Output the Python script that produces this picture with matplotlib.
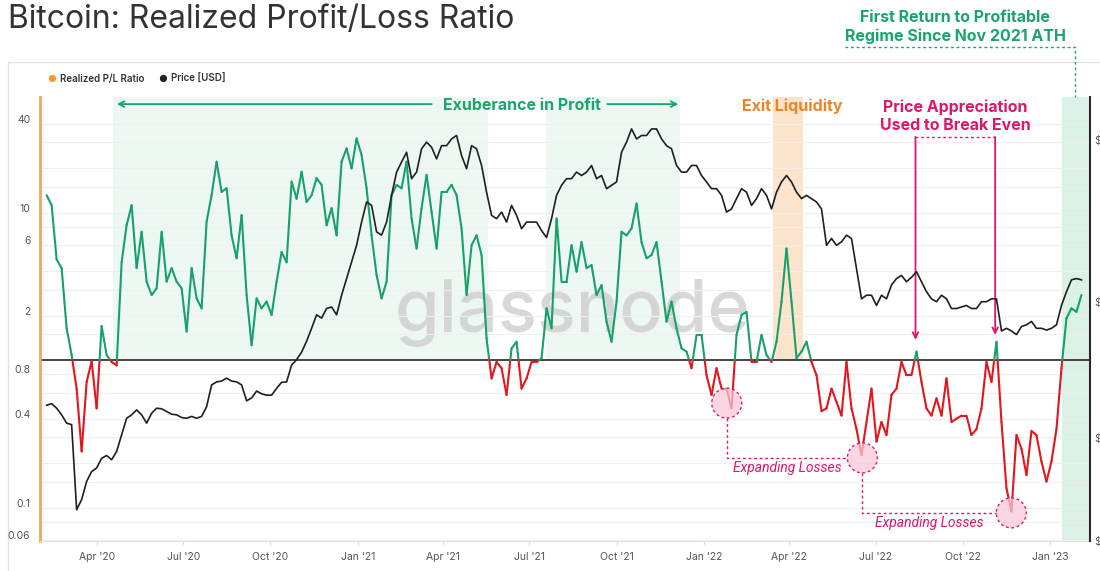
import numpy as np
import pandas as pd
import matplotlib
matplotlib.use("Agg")
import matplotlib.pyplot as plt
import matplotlib.dates as mdates
import matplotlib.transforms as mtransforms
from matplotlib.collections import LineCollection
from matplotlib.patches import Ellipse, Rectangle
from matplotlib.lines import Line2D

plt.rcParams['font.family'] = ['Inter', 'DejaVu Sans']

dates = pd.date_range("2020-02-08", "2023-02-03", periods=208)
pl_ratio = [
    13.1, 11.2, 4.8, 4.2, 1.64, 1.08, 0.64, 0.24, 0.71, 0.98,
    0.47, 1.7, 1.08, 0.97, 0.92, 4.6, 8.2, 11.2, 4.2, 7.4,
    3.4, 2.76, 3.06, 7.4, 3.4, 4.2, 3.4, 3.06, 1.56, 4.2,
    2.62, 2.24, 8.7, 13.1, 22.1, 13.8, 14.6, 7.0, 4.9, 9.6,
    2.76, 1.26, 2.62, 2.24, 2.49, 2.02, 3.4, 5.4, 4.6, 16.2,
    12.4, 18.9, 11.8,
    13.1, 17.1, 15.4, 8.2, 10.7, 7.0, 22.1, 27.2, 19.9, 31.8,
    24.5, 14.6, 7.0, 3.77, 2.62, 3.4, 13.1, 15.4, 14.6, 22.1,
    9.1, 5.7, 10.7, 18.0, 10.1, 5.7, 13.8, 13.8, 15.4, 13.1,
    7.8, 2.76, 6.0, 7.0, 5.15, 1.40, 0.75, 0.97, 0.88, 0.58,
    1.2, 1.33, 0.64, 0.75, 0.97, 0.97, 1.03, 2.24, 1.64, 9.1,
    3.4, 3.4,
    6.0, 3.97, 6.3, 4.2, 4.4, 2.76, 3.22, 1.82, 1.33, 2.49,
    7.4, 7.0, 7.8, 11.5, 6.3, 4.9, 5.15, 6.3, 3.4, 1.82,
    2.49, 1.64, 1.2, 1.14, 0.88, 1.48, 1.48, 0.79, 0.58, 0.88,
    0.64, 0.64, 0.47, 1.48, 2.02, 2.12, 0.97, 0.97, 1.48, 1.08,
    0.97, 1.33, 2.49, 5.7, 2.49, 1.03, 1.14, 1.33, 0.97, 0.79,
    0.45, 0.47,
    0.64, 0.52, 0.42, 0.97, 0.47, 0.34, 0.227, 0.38, 0.64, 0.28,
    0.38, 0.31, 0.58, 0.64, 0.97, 0.79, 0.79, 1.14, 0.71, 0.47,
    0.42, 0.55, 0.42, 0.75, 0.38, 0.40, 0.42, 0.42, 0.31, 0.34,
    0.47, 0.97, 0.71, 1.33, 0.38, 0.135, 0.094, 0.31, 0.25, 0.166,
    0.33, 0.31, 0.205, 0.15, 0.205, 0.34, 0.88, 1.92, 2.24, 2.12,
    2.76,
]
# BTC price, thousands of USD
price_k = [
    10.0, 10.1, 9.8, 9.37, 8.86, 8.77, 4.94, 5.29, 5.98, 6.39,
    6.55, 6.99, 7.12, 6.92, 7.32, 8.19, 9.16, 9.37, 9.69, 9.37,
    8.86, 9.47, 9.8, 9.76, 9.58, 9.41, 9.37, 9.2, 9.16, 9.27,
    9.16, 9.27, 9.9, 11.47, 11.7, 11.77, 12.0, 11.77, 11.7, 11.47,
    10.3, 10.5, 11.0, 10.8, 10.7, 10.7, 11.2, 11.67, 11.7, 13.1,
    13.6, 14.3, 15.4,
    16.8, 18.4, 18.0, 19.2, 19.4, 18.4, 21.0, 23.5, 26.3, 29.4,
    34.4, 39.4, 38.5, 32.2, 31.5, 34.4, 41.2, 48.2, 51.6, 55.1,
    46.1, 48.2, 56.4, 59.0, 57.0, 52.7, 57.6, 57.6, 60.3, 61.7,
    53.9, 49.3, 57.6, 56.4, 50.4, 42.1, 36.0, 35.2, 36.8, 34.4,
    38.5, 36.0, 32.9, 34.4, 34.4, 34.4, 32.5, 31.0, 35.2, 41.2,
    44.1, 46.1,
    46.1, 48.2, 47.1, 48.2, 50.4, 46.1, 47.1, 43.1, 44.1, 45.1,
    55.1, 59.0, 64.5, 60.3, 61.7, 61.7, 64.5, 64.5, 60.3, 57.6,
    56.4, 50.4, 48.2, 48.2, 50.4, 50.4, 47.1, 45.1, 43.1, 43.1,
    41.2, 36.8, 37.6, 40.3, 43.1, 42.1, 38.5, 40.3, 43.1, 41.2,
    37.6, 42.1, 45.1, 47.1, 45.1, 42.1, 40.3, 41.2, 40.3, 39.4,
    37.6, 29.4,
    30.8, 29.4, 30.1, 31.5, 30.8, 25.1, 20.5, 21.0, 21.0, 19.6,
    21.0, 20.5, 22.5, 23.5, 24.0, 23.0, 23.7, 24.6, 23.0, 21.5,
    20.5, 20.1, 21.0, 20.5, 19.2, 19.2, 19.4, 19.6, 19.2, 19.2,
    20.1, 20.1, 20.5, 20.5, 16.5, 16.8, 16.5, 16.1, 17.0, 17.2,
    17.6, 16.8, 16.8, 16.6, 16.8, 17.2, 19.6, 21.5, 23.3, 23.5,
    23.3,
]

tick_dates = pd.date_range("2020-04-01", "2023-01-01", freq="QS")
ratio_ticks = [0.06, 0.1, 0.4, 0.8, 2, 6, 10, 40]
ratio_grid = [0.08, 0.15, 0.2, 0.3, 0.6, 1.5, 3, 4, 8, 15, 20, 30]
price_ticks = [4000, 8000, 20000, 60000]

GREEN = "#17a16a"
RED = "#e3151d"
TXT_GREEN = "#1aa56d"
ORANGE = "#f0841f"
CRIMSON = "#e0166b"

fig = plt.figure(figsize=(11, 5.71), dpi=100)
fig.add_artist(Rectangle((8 / 1100, -0.05), 1.0, 1.05 - 62 / 571, transform=fig.transFigure,
                         facecolor="white", edgecolor="#e3e3e3", lw=1, zorder=-5))

ax = fig.add_axes([40 / 1100, 30 / 571, 1050 / 1100, 444 / 571])
ax.set_yscale("log")
ax.set_ylim(0.0593, 60.7)
ax.set_xlim(pd.Timestamp("2020-02-01"), pd.Timestamp("2023-02-12"))

ax.set_yticks(ratio_ticks)
ax.set_yticklabels([f"{t:g}" for t in ratio_ticks])
ax.set_yticks(ratio_grid, minor=True)
ax.yaxis.set_minor_formatter(plt.NullFormatter())
ax.grid(True, which="both", axis="y", color="#efefef", lw=0.8, zorder=0)
ax.tick_params(axis="y", which="both", length=0, labelsize=7.5, labelcolor="#555", pad=7)
lift = mtransforms.ScaledTranslation(0, 5 / 100, fig.dpi_scale_trans)
for lab in ax.get_yticklabels():
    lab.set_transform(lab.get_transform() + lift)
ax.set_xticks(tick_dates)
ax.set_xticklabels([d.strftime("%b '%y") for d in tick_dates])
ax.tick_params(axis="x", length=3, color="#dddddd", labelsize=7.5, labelcolor="#555", pad=5)

for s in ["top", "right"]:
    ax.spines[s].set_visible(False)
ax.spines["left"].set_color("#f2a65a")
ax.spines["left"].set_linewidth(2)
ax.spines["bottom"].set_color("#e2e2e2")

# shaded regimes
top = 60.7
for a, b in [("2020-04-18", "2021-05-18"), ("2021-07-18", "2021-12-07")]:
    ax.fill_between([pd.Timestamp(a), pd.Timestamp(b)], 1, top, color="#eef8f3", lw=0, zorder=0.5)
ax.fill_between([pd.Timestamp("2022-03-15"), pd.Timestamp("2022-04-15")], 1, top,
                color="#fce3cb", lw=0, zorder=0.5)
ax.axvspan(pd.Timestamp("2023-01-13"), pd.Timestamp("2023-02-12"), color="#dcf2e7", lw=0, zorder=0.5)

ax.text(0.507, 0.514, "glassnode", transform=ax.transAxes, ha="center", va="center",
        fontsize=52, color="#cbcbcb", alpha=0.75, fontweight="medium", zorder=1)

ax.axhline(1.0, color="#444444", lw=1.4, zorder=2)

# ratio line, green above 1 and red below
xn = mdates.date2num(dates)
yv = np.array(pl_ratio)
segs, cols = [], []
for k in range(len(xn) - 1):
    x0, x1, y0, y1 = xn[k], xn[k + 1], yv[k], yv[k + 1]
    a0, a1 = np.log10(y0), np.log10(y1)
    if a0 * a1 < 0:
        xm = x0 + a0 / (a0 - a1) * (x1 - x0)
        segs.append([(x0, y0), (xm, 1.0)])
        cols.append(GREEN if a0 > 0 else RED)
        segs.append([(xm, 1.0), (x1, y1)])
        cols.append(GREEN if a1 > 0 else RED)
    else:
        segs.append([(x0, y0), (x1, y1)])
        cols.append(GREEN if a0 + a1 > 0 else RED)
ax.add_collection(LineCollection(segs, colors=cols, lw=1.5, capstyle="round",
                                 joinstyle="round", zorder=3))

# price axis
ax2 = ax.twinx()
ax2.set_yscale("log")
ax2.set_ylim(4000, 80000)
ax2.plot(dates, np.array(price_k) * 1000, color="#1f1f1f", lw=1.2)
ax2.set_yticks(price_ticks)
ax2.set_yticklabels(["$"] * len(price_ticks))
ax2.yaxis.set_minor_locator(plt.NullLocator())
ax2.tick_params(axis="y", length=0, labelsize=7.5, labelcolor="#555", pad=3)
for s in ["top", "left", "bottom"]:
    ax2.spines[s].set_visible(False)
ax2.spines["right"].set_color("#2b2b2b")
ax2.spines["right"].set_linewidth(1.5)

# ---- annotations ----
xt = ax.get_xaxis_transform()


def dn(d):
    return float(mdates.date2num(pd.Timestamp(d)))


ax.text(dn("2021-06-23"), 0.98, "Exuberance in Profit", transform=xt, ha="center",
        va="center", color=TXT_GREEN, fontsize=11.5, fontweight="bold")
ax.annotate("", xy=(dn("2020-04-22"), 0.984), xytext=(dn("2021-03-20"), 0.984),
            xycoords=xt, textcoords=xt,
            arrowprops=dict(arrowstyle="->", color=TXT_GREEN, lw=1.3, shrinkA=0, shrinkB=0))
ax.annotate("", xy=(dn("2021-12-05"), 0.984), xytext=(dn("2021-09-21"), 0.984),
            xycoords=xt, textcoords=xt,
            arrowprops=dict(arrowstyle="->", color=TXT_GREEN, lw=1.3, shrinkA=0, shrinkB=0))

ax.text(dn("2022-04-04"), 0.98, "Exit Liquidity", transform=xt, ha="center",
        va="center", color=ORANGE, fontsize=11.5, fontweight="bold")

ax.text(dn("2022-09-23"), 0.957, "Price Appreciation\nUsed to Break Even", transform=xt,
        ha="center", va="center", color=CRIMSON, fontsize=11.5, fontweight="bold", linespacing=1.2)
d_a, d_b = dn("2022-08-12"), dn("2022-11-04")
ax.plot([d_a, d_b], [0.91, 0.91], transform=xt, color=CRIMSON, lw=1, ls=(0, (2, 2)), zorder=4)
for d, v in [(d_a, 1.37), (d_b, 1.48)]:
    ax.annotate("", xy=(d, v), xycoords="data", xytext=(d, 0.91), textcoords=xt,
                arrowprops=dict(arrowstyle="->", color=CRIMSON, lw=1.3, shrinkA=0, shrinkB=0),
                zorder=4)


def to_axes(d, v):
    p = ax.transData.transform(np.array([[dn(d), float(v)]]))
    return ax.transAxes.inverted().transform(p)[0]


rw, rh = 30 / 1050, 30 / 444
circles = [to_axes("2022-01-25", 0.51), to_axes("2022-06-17", 0.217), to_axes("2022-11-21", 0.092)]
for cx, cy in circles:
    ax.add_patch(Ellipse((cx, cy), rw, rh, transform=ax.transAxes, facecolor="#f7c9d8",
                         alpha=0.75, edgecolor="none", zorder=4))
    ax.add_patch(Ellipse((cx, cy), rw, rh, transform=ax.transAxes, facecolor="none",
                         edgecolor=CRIMSON, lw=1, ls=(0, (2, 2)), zorder=4))
for (c1x, c1y), (c2x, c2y) in zip(circles[:-1], circles[1:]):
    ax.plot([c1x, c1x, c2x - rw / 2], [c1y - rh / 2, c2y, c2y], transform=ax.transAxes,
            color=CRIMSON, lw=1, ls=(0, (2, 2)), zorder=4)
    ax.text((c1x + c2x - rw / 2) / 2, c2y - 10 / 444, "Expanding Losses", transform=ax.transAxes,
            ha="center", va="center", color=CRIMSON, fontsize=10, style="italic",
            family=["Roboto", "DejaVu Sans"], zorder=4)

# header texts
fig.text(8 / 1100, 1 - 20 / 571, "Bitcoin: Realized Profit/Loss Ratio", ha="left", va="center",
         fontsize=23, color="#333333")
fig.text(955 / 1100, 1 - 27 / 571, "First Return to Profitable\nRegime Since Nov 2021 ATH",
         ha="center", va="center", fontsize=11.5, fontweight="bold", color=TXT_GREEN, linespacing=1.3)
fig.add_artist(Line2D([845 / 1100, 1075 / 1100, 1075 / 1100], [1 - 47 / 571, 1 - 47 / 571, 1 - 97 / 571],
                      transform=fig.transFigure, color=TXT_GREEN, lw=1, ls=(0, (2, 2))))

# legend
fig.text(52 / 1100, 1 - 79 / 571, "\u25CF", color="#f39a2d", fontsize=7, ha="center", va="center")
fig.text(60 / 1100, 1 - 79 / 571, "Realized P/L Ratio", color="#333", fontsize=7,
         fontweight="semibold", ha="left", va="center")
fig.text(163 / 1100, 1 - 79 / 571, "\u25CF", color="#222", fontsize=7, ha="center", va="center")
fig.text(171 / 1100, 1 - 79 / 571, "Price [USD]", color="#333", fontsize=7,
         fontweight="semibold", ha="left", va="center")

fig.savefig("out.png", dpi=100)
